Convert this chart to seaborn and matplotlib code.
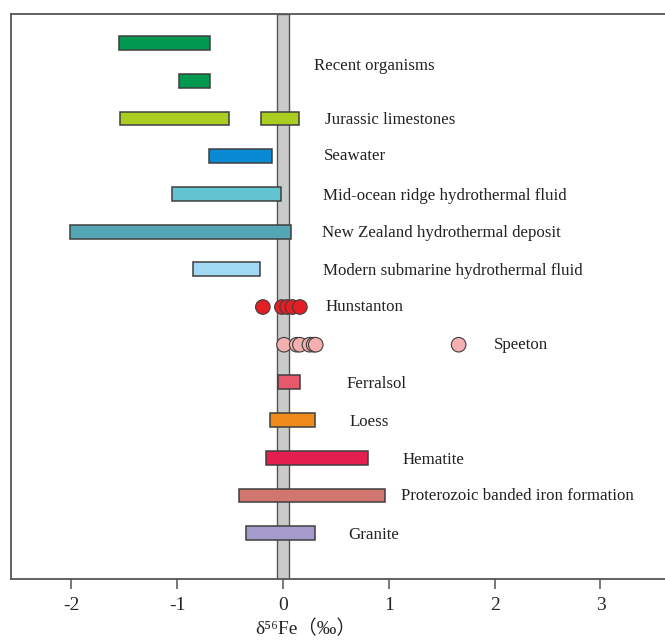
import pandas as pd
import matplotlib
matplotlib.use("Agg")
import matplotlib.pyplot as plt
import seaborn as sns

# row labels (top to bottom)
labels = ["Recent organisms", "Jurassic limestones", "Seawater",
          "Mid-ocean ridge hydrothermal fluid", "New Zealand hydrothermal deposit",
          "Modern submarine hydrothermal fluid", "Hunstanton", "Speeton",
          "Ferralsol", "Loess", "Hematite", "Proterozoic banded iron formation",
          "Granite"]

# ranges of d56Fe (permil)
range_row = [0, 1, 2, 2, 3, 4, 5, 6, 9, 10, 11, 12, 13]
range_lo = [-1.55, -0.98, -1.54, -0.21, -0.70, -1.05, -2.01, -0.85,
            -0.05, -0.12, -0.16, -0.42, -0.35]
range_hi = [-0.69, -0.69, -0.51, 0.15, -0.10, -0.02, 0.08, -0.22,
            0.16, 0.30, 0.80, 0.96, 0.30]
range_color = ["#00994f", "#00994f", "#abcd21", "#abcd21", "#0a8ad4",
               "#62c4d1", "#53a7b5", "#a0d9f3", "#e8586c", "#f08a1b",
               "#e51e50", "#d0766e", "#a69ccb"]

# individual samples
hunstanton = [-0.19, -0.01, 0.04, 0.09, 0.16]
speeton = [0.01, 0.13, 0.16, 0.25, 0.29, 0.31, 1.66]

# where the names sit
label_row = [0.6, 2.05, 3.0, 4.05, 5.05, 6.05, 7.0, 8.0, 9.05, 10.05, 11.05, 12.0, 13.05]
label_x = [0.29, 0.40, 0.39, 0.38, 0.37, 0.38, 0.40, 1.99,
           0.60, 0.63, 1.13, 1.12, 0.62]

pts = pd.DataFrame({
    "x": hunstanton + speeton,
    "row": [7] * len(hunstanton) + [8] * len(speeton),
    "site": ["Hunstanton"] * len(hunstanton) + ["Speeton"] * len(speeton),
})

sns.set_style("white")
plt.rcParams["font.family"] = ["Liberation Serif", "DejaVu Serif", "Noto Sans CJK SC"]

fig = plt.figure(figsize=(6.65, 6.40), dpi=100)
ax = fig.add_axes([0.0165, 0.095, 0.9835, 0.883])

edge = "#3f3f3f"
ax.axvspan(-0.06, 0.06, facecolor="#c9cbca", edgecolor="#555555", lw=1.0, zorder=1)

widths = [h - l for l, h in zip(range_lo, range_hi)]
ax.barh(range_row, widths, left=range_lo, height=0.37, color=range_color,
        edgecolor=edge, linewidth=1.1, zorder=3)

sns.scatterplot(data=pts, x="x", y="row", hue="site",
                palette={"Hunstanton": "#e31e25", "Speeton": "#f4b0b0"},
                s=110, edgecolor=edge, linewidth=0.8, legend=False,
                zorder=4, ax=ax)

for name, y, x in zip(labels, label_row, label_x):
    ax.text(x, y, name, fontsize=12.2, va="center", ha="left", color="#222222")

ax.set_xlim(-2.57, 3.61)
ax.set_ylim(14.22, -0.77)
ax.set_xticks([-2, -1, 0, 1, 2, 3])
ax.set_xticklabels(["-2", "-1", "0", "1", "2", "3"], fontsize=14)
ax.set_yticks([])
ax.set_ylabel("")
ax.set_xlabel("δ⁵⁶Fe（‰）", fontsize=14)
ax.xaxis.set_label_coords(0.45, -0.072)
ax.tick_params(axis="x", direction="out", length=7, width=1.1,
               color="#555555", pad=6, bottom=True)
ax.spines["right"].set_visible(False)
for s in ["left", "top", "bottom"]:
    ax.spines[s].set_color("#555555")
    ax.spines[s].set_linewidth(1.3)

fig.savefig("out.png", dpi=100)
